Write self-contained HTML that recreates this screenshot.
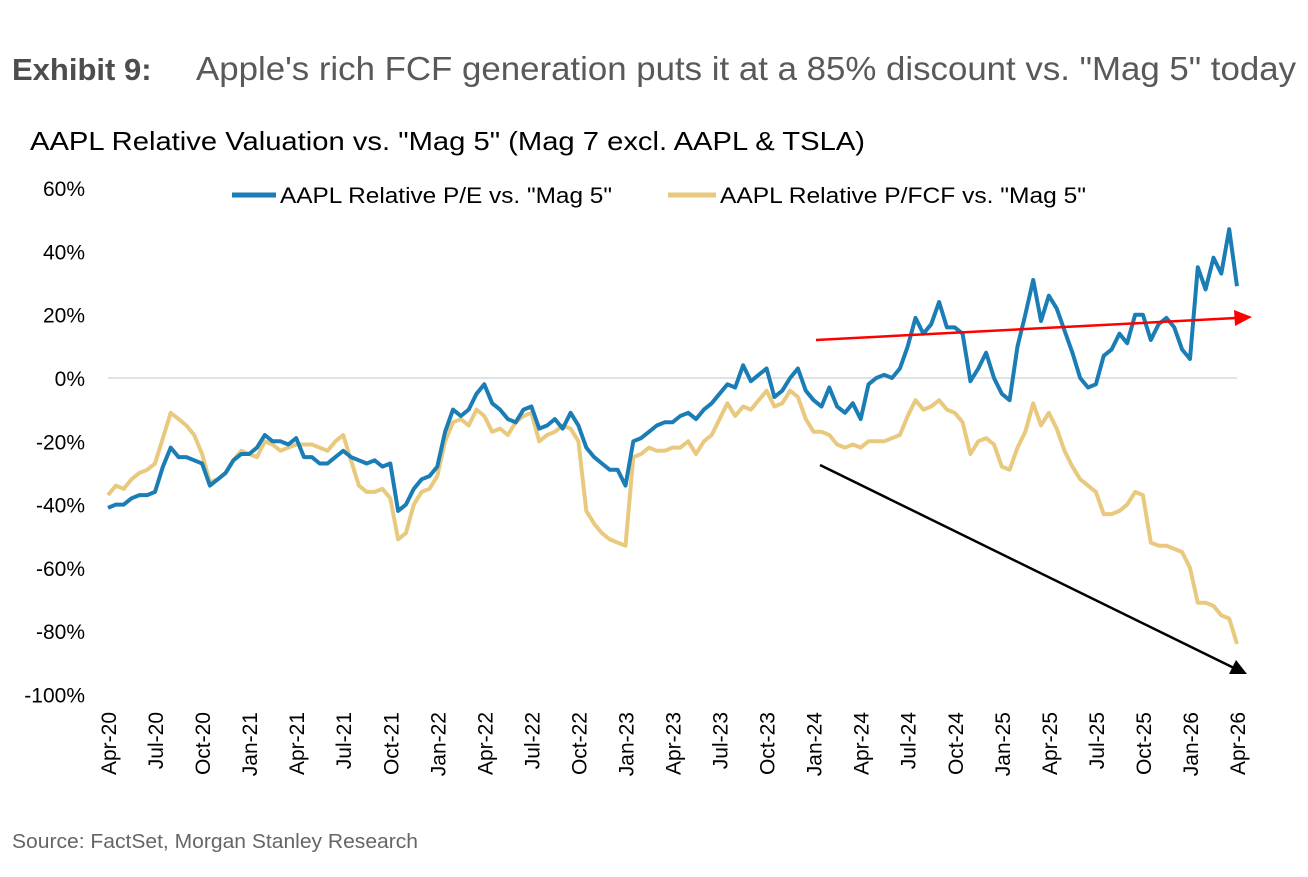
<!DOCTYPE html>
<html><head><meta charset="utf-8"><style>
body{margin:0;background:#fff;width:1308px;height:872px;overflow:hidden;font-family:"Liberation Sans",Arial,sans-serif}
</style></head><body>
<svg width="1308" height="872" xmlns="http://www.w3.org/2000/svg">
<text x="12" y="80" font-size="31" font-weight="bold" fill="#4d4d4d">Exhibit 9:</text>
<text x="196" y="80" font-size="33" fill="#595959" textLength="1100" lengthAdjust="spacingAndGlyphs">Apple's rich FCF generation puts it at a 85% discount vs. "Mag 5" today</text>
<text x="30" y="150" font-size="26" fill="#000" textLength="835" lengthAdjust="spacingAndGlyphs">AAPL Relative Valuation vs. "Mag 5" (Mag 7 excl. AAPL &amp; TSLA)</text>
<line x1="232" y1="195" x2="276" y2="195" stroke="#1a7db5" stroke-width="5"/>
<text x="280" y="203" font-size="22" textLength="332" lengthAdjust="spacingAndGlyphs">AAPL Relative P/E vs. "Mag 5"</text>
<line x1="668" y1="195" x2="716" y2="195" stroke="#e8c97e" stroke-width="5"/>
<text x="720" y="203" font-size="22" textLength="366" lengthAdjust="spacingAndGlyphs">AAPL Relative P/FCF vs. "Mag 5"</text>
<g id="axes"></g>
<g id="series"></g>
<line x1="816" y1="340" x2="1236" y2="318" stroke="#ff0000" stroke-width="2.5"/>
<polygon points="1252,317 1234,310 1235,326" fill="#ff0000"/>
<line x1="820" y1="465" x2="1234" y2="668" stroke="#000" stroke-width="2.5"/>
<polygon points="1247,674 1236,660 1229,674" fill="#000"/>
<text x="12" y="848" font-size="20" fill="#666" textLength="406" lengthAdjust="spacingAndGlyphs">Source: FactSet, Morgan Stanley Research</text>
</svg>
<script>
const yTicks=[60,40,20,0,-20,-40,-60,-80,-100];
const xLabels=["Apr-20","Jul-20","Oct-20","Jan-21","Apr-21","Jul-21","Oct-21","Jan-22","Apr-22","Jul-22","Oct-22","Jan-23","Apr-23","Jul-23","Oct-23","Jan-24","Apr-24","Jul-24","Oct-24","Jan-25","Apr-25","Jul-25","Oct-25","Jan-26","Apr-26"];
const pe=[-41,-40,-40,-38,-37,-37,-36,-28,-22,-25,-25,-26,-27,-34,-32,-30,-26,-24,-24,-22,-18,-20,-20,-21,-19,-25,-25,-27,-27,-25,-23,-25,-26,-27,-26,-28,-27,-42,-40,-35,-32,-31,-28,-17,-10,-12,-10,-5,-2,-8,-10,-13,-14,-10,-9,-16,-15,-13,-16,-11,-15,-22,-25,-27,-29,-29,-34,-20,-19,-17,-15,-14,-14,-12,-11,-13,-10,-8,-5,-2,-3,4,-1,1,3,-6,-4,0,3,-4,-7,-9,-3,-9,-11,-8,-13,-2,0,1,0,3,10,19,14,17,24,16,16,14,-1,3,8,0,-5,-7,10,20,31,18,26,22,15,8,0,-3,-2,7,9,14,11,20,20,12,17,19,16,9,6,35,28,38,33,47,29];
const pfcf=[-37,-34,-35,-32,-30,-29,-27,-19,-11,-13,-15,-18,-24,-33,-32,-30,-26,-23,-24,-25,-20,-21,-23,-22,-21,-21,-21,-22,-23,-20,-18,-26,-34,-36,-36,-35,-38,-51,-49,-40,-36,-35,-31,-20,-14,-13,-15,-10,-12,-17,-16,-18,-14,-12,-11,-20,-18,-17,-15,-16,-20,-42,-46,-49,-51,-52,-53,-25,-24,-22,-23,-23,-22,-22,-20,-24,-20,-18,-13,-8,-12,-9,-10,-7,-4,-9,-8,-4,-6,-13,-17,-17,-18,-21,-22,-21,-22,-20,-20,-20,-19,-18,-12,-7,-10,-9,-7,-10,-11,-14,-24,-20,-19,-21,-28,-29,-22,-17,-8,-15,-11,-16,-23,-28,-32,-34,-36,-43,-43,-42,-40,-36,-37,-52,-53,-53,-54,-55,-60,-71,-71,-72,-75,-76,-84];
const NS="http://www.w3.org/2000/svg";
const X0=108,X1=1237,Y0=378,PX=3.165;
function yS(v){return Y0-v*PX;}
function xIdx(i,n){return X0+(X1-X0)*i/(n-1);}
const axes=document.getElementById('axes');
yTicks.forEach(t=>{
  const tx=document.createElementNS(NS,'text');
  tx.setAttribute('x',85);tx.setAttribute('y',yS(t)+8);tx.setAttribute('text-anchor','end');tx.setAttribute('font-size','21');
  tx.textContent=t+'%';
  
  
  axes.appendChild(tx);
});
const zl=document.createElementNS(NS,'line');
zl.setAttribute('x1',X0);zl.setAttribute('x2',X1);zl.setAttribute('y1',yS(0));zl.setAttribute('y2',yS(0));
zl.setAttribute('stroke','#d9d9d9');zl.setAttribute('stroke-width','1.5');


axes.appendChild(zl);
xLabels.forEach((l,i)=>{
  const x=xIdx(i,xLabels.length)+8;
  const tx=document.createElementNS(NS,'text');
  tx.setAttribute('transform','translate('+x+',712) rotate(-90)');
  tx.setAttribute('text-anchor','end');tx.setAttribute('font-size','21');
  tx.textContent=l;
  
  
  axes.appendChild(tx);
});
const ser=document.getElementById('series');
function draw(arr,color,name){
  const p=document.createElementNS(NS,'polyline');
  p.setAttribute('points',arr.map((v,i)=>xIdx(i,arr.length).toFixed(1)+','+yS(v).toFixed(1)).join(' '));
  p.setAttribute('fill','none');p.setAttribute('stroke',color);p.setAttribute('stroke-width','4');p.setAttribute('stroke-linejoin','round');
  
  
  ser.appendChild(p);
}
draw(pfcf,'#e8c97e','pfcf-line');
draw(pe,'#1a7db5','pe-line');
</script>
</body></html>
